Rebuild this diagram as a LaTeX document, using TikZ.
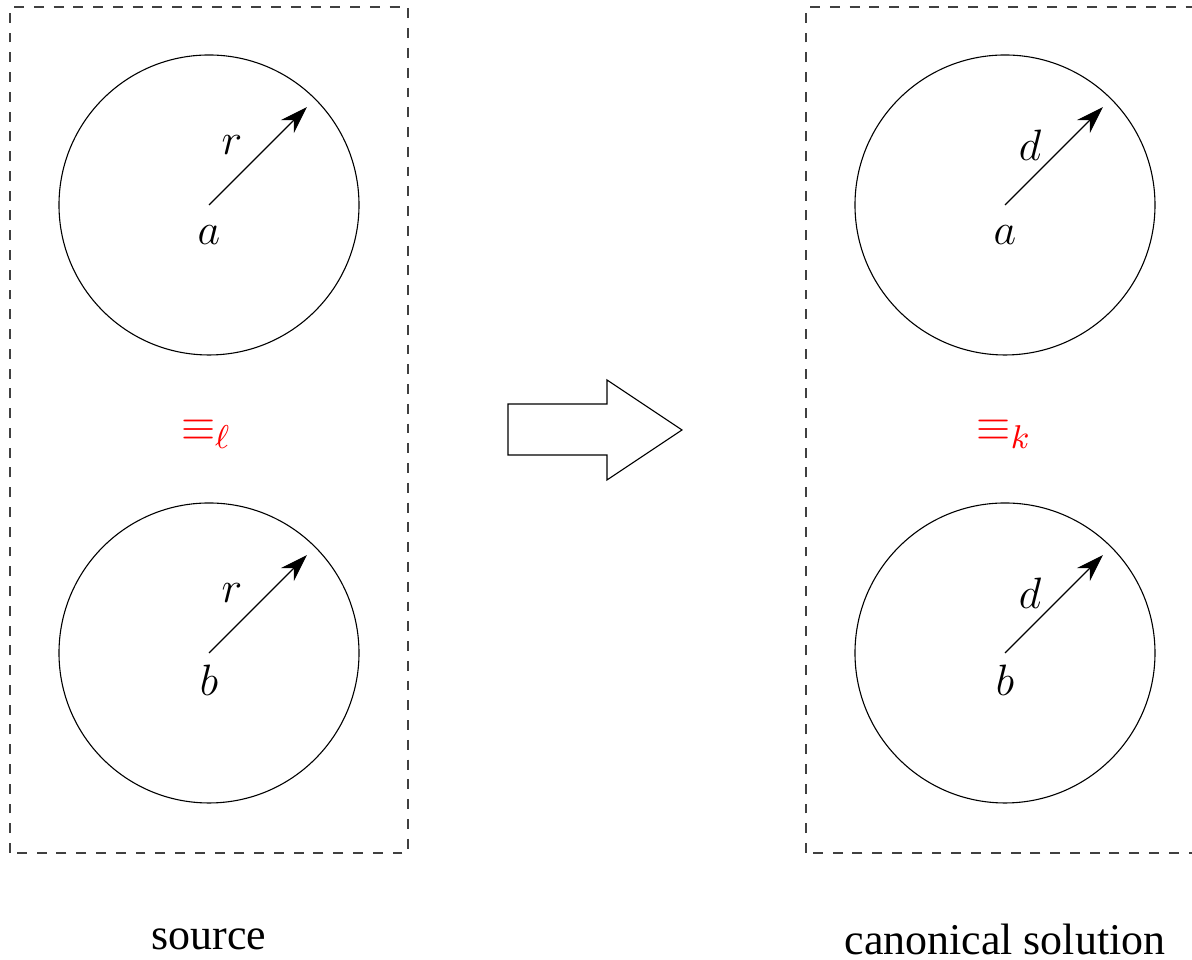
\documentclass[tikz,border=0pt]{standalone}
\usepackage{fontspec}
\setmainfont{Liberation Serif}
\usepackage{amsmath}
\usetikzlibrary{arrows.meta}
\DeclareMathSizes{12}{12}{9}{7}

\begin{document}
\begin{tikzpicture}[x=0.96cm, y=0.96cm, >={Stealth[length=7.5pt, width=5pt]}, font=\large,
  zone/.style={draw=black!75, dash pattern=on 2.7pt off 2.7pt, line width=0.3pt},
  ball/.style={draw, circle, minimum size=2.88cm, inner sep=0pt, line width=0.3pt}]
\useasboundingbox (0,0) rectangle (11.92,9.60);
% dashed frames
\draw[zone] (0.10,1.07) rectangle (4.08,9.53);
\draw[zone] (8.06,1.07) rectangle (12.04,9.53);
% circles
\node[ball] (sa) at (2.09,7.55) {};
\node[ball] (sb) at (2.09,3.07) {};
\node[ball] (ca) at (10.05,7.55) {};
\node[ball] (cb) at (10.05,3.07) {};
\foreach \c in {sa,sb,ca,cb} \draw[->, line width=0.3pt, shorten >=3.3pt] (\c.center) -- (\c.45);
% labels
\node (ra) at (2.32,8.15) {$r$};
\node (rb) at (2.32,3.67) {$r$};
\node (da) at (10.30,8.15) {$d$};
\node (db) at (10.30,3.67) {$d$};
\node (la) at (2.09,7.25) {$a$};
\node (lb) at (2.09,2.80) {$b$};
\node (ka) at (10.05,7.25) {$a$};
\node (kb) at (10.05,2.80) {$b$};
\node[text=red] (eql) at (2.06,5.26) {$\equiv_\ell$};
\node[text=red] (eqk) at (10.04,5.26) {$\equiv_k$};
% block arrow
\draw[line width=0.3pt] (5.08,5.56) -- (6.07,5.56) -- (6.07,5.80) -- (6.82,5.30) -- (6.07,4.80) -- (6.07,5.05) -- (5.08,5.05) -- cycle;
\node[inner sep=1pt] (src) at (2.09,0.21) {source};
\node[inner sep=1pt] (sol) at (10.05,0.21) {canonical solution};
\end{tikzpicture}
\end{document}
